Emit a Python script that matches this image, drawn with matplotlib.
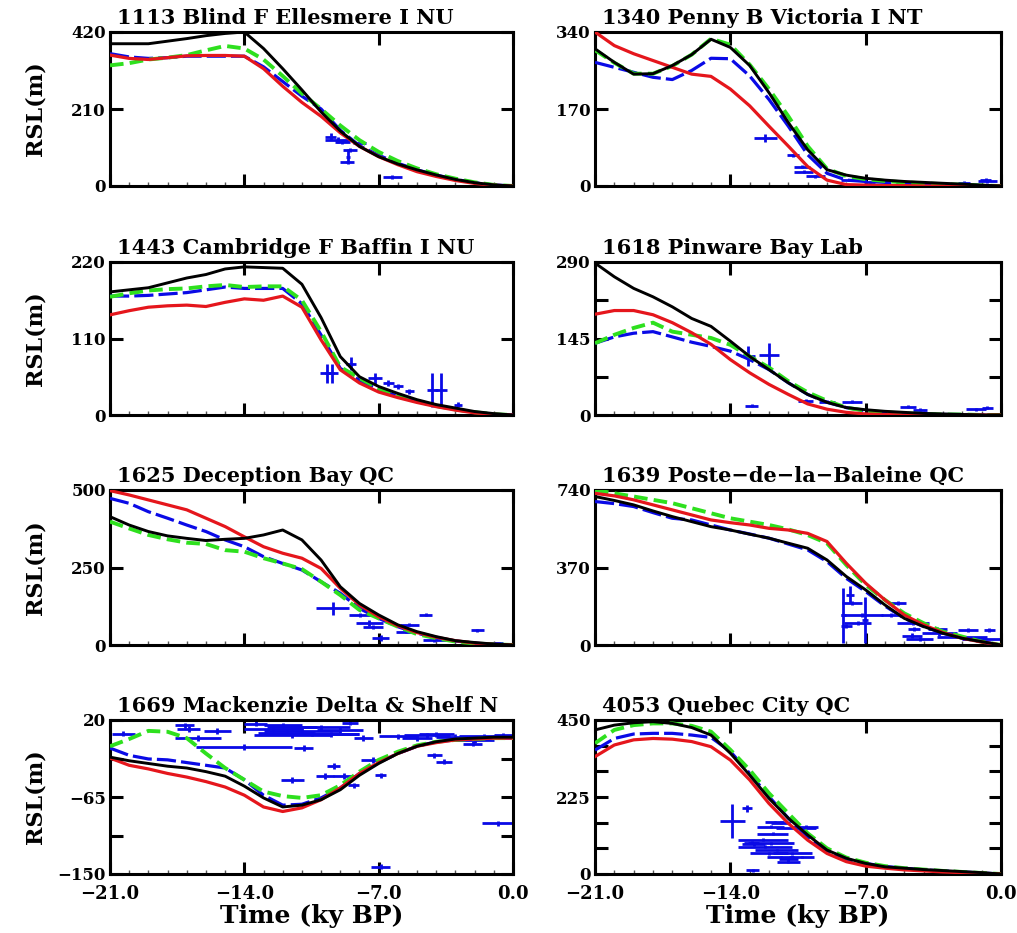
import matplotlib
matplotlib.use("Agg")
import matplotlib.pyplot as plt
from matplotlib.ticker import FixedLocator, FuncFormatter, NullFormatter, MultipleLocator

# ---------------- data ----------------
time_ky = [-21, -20, -19, -18, -17, -16, -15, -14, -13, -12, -11,
           -10, -9, -8, -7, -6, -5, -4, -3, -2, -1, 0]

site_titles = ["1113 Blind F Ellesmere I NU", "1340 Penny B Victoria I NT",
               "1443 Cambridge F Baffin I NU", "1618 Pinware Bay Lab",
               "1625 Deception Bay QC", "1639 Poste\u2212de\u2212la\u2212Baleine QC",
               "1669 Mackenzie Delta & Shelf N", "4053 Quebec City QC"]
y_bottoms = [0, 0, 0, 0, 0, 0, -150, 0]
y_tops = [420, 340, 220, 290, 500, 740, 20, 450]
y_mids = [210, 170, 110, 145, 250, 370, -65, 225]
y_minor = [[], [], [], [72.5, 217.5], [], [], [-107.5, -22.5], [75, 150, 300, 375]]

# model curves (black solid, green dashed, blue dashed, red solid)
s1113_black = [388, 388, 388, 395, 402, 410, 416, 420, 375, 320, 262, 202, 150, 108, 80, 60, 44, 30, 18, 9, 3, 0]
s1113_green = [329, 335, 345, 350, 357, 370, 382, 375, 345, 300, 252, 210, 165, 125, 93, 68, 48, 32, 20, 10, 3, 0]
s1113_blue = [361, 352, 348, 350, 354, 354, 354, 354, 325, 285, 245, 210, 152, 110, 84, 62, 44, 30, 18, 9, 3, 0]
s1113_red = [357, 348, 345, 350, 355, 356, 356, 354, 320, 272, 228, 190, 145, 108, 80, 58, 39, 26, 15, 7, 2, 0]

s1340_black = [303, 273, 247, 248, 266, 290, 324, 306, 266, 206, 140, 80, 36, 24, 17, 13, 10, 8, 6, 4, 2, 0]
s1340_green = [300, 272, 248, 248, 265, 290, 325, 312, 268, 214, 154, 88, 38, 22, 15, 11, 8, 6, 4, 3, 1, 0]
s1340_blue = [273, 262, 251, 240, 235, 255, 282, 281, 243, 191, 132, 69, 28, 13, 10, 8, 6, 5, 4, 3, 1, 0]
s1340_red = [340, 310, 292, 277, 262, 247, 242, 214, 177, 132, 88, 43, 13, 3, 2, 1, 1, 0, 0, 0, 0, 0]

s1443_black = [177, 180, 183, 190, 197, 202, 210, 213, 212, 211, 188, 140, 84, 55, 41, 31, 22, 15, 10, 5, 2, 0]
s1443_green = [170, 175, 179, 181, 182, 185, 187, 184, 185, 185, 165, 120, 69, 53, 38, 28, 20, 13, 8, 4, 1, 0]
s1443_blue = [171, 171, 172, 174, 176, 180, 184, 182, 182, 182, 160, 115, 67, 50, 36, 27, 19, 13, 8, 4, 1, 0]
s1443_red = [144, 150, 155, 157, 158, 156, 162, 167, 165, 171, 155, 108, 65, 46, 33, 25, 18, 12, 7, 3, 1, 0]

s1618_black = [288, 262, 240, 224, 205, 183, 168, 140, 111, 86, 61, 39, 24, 14, 10, 7, 5, 3, 2, 1, 0, 0]
s1618_green = [136, 152, 165, 175, 158, 152, 146, 133, 111, 90, 64, 43, 27, 14, 8, 5, 3, 2, 1, 1, 0, 0]
s1618_blue = [136, 148, 155, 158, 148, 138, 130, 121, 105, 86, 61, 39, 24, 14, 8, 5, 3, 2, 1, 1, 0, 0]
s1618_red = [191, 198, 198, 190, 175, 156, 134, 105, 80, 58, 39, 21, 11, 5, 2, 1, 0, 0, 0, 0, 0, 0]

s1625_black = [414, 387, 366, 352, 344, 337, 341, 344, 355, 371, 339, 274, 188, 134, 97, 65, 43, 27, 14, 8, 3, 0]
s1625_green = [398, 376, 355, 341, 330, 326, 306, 301, 280, 263, 245, 204, 161, 113, 86, 59, 35, 22, 11, 5, 2, 0]
s1625_blue = [473, 457, 430, 409, 387, 366, 339, 317, 285, 263, 242, 204, 167, 118, 86, 59, 38, 24, 13, 6, 2, 0]
s1625_red = [498, 484, 468, 452, 436, 409, 382, 349, 317, 296, 280, 247, 183, 129, 91, 62, 40, 25, 14, 6, 2, 0]

s1639_black = [709, 690, 669, 640, 613, 589, 565, 549, 529, 510, 486, 462, 406, 327, 263, 191, 127, 88, 56, 32, 16, 0]
s1639_green = [740, 724, 709, 693, 677, 653, 629, 605, 589, 573, 552, 525, 486, 382, 287, 215, 151, 104, 64, 40, 16, 0]
s1639_blue = [685, 675, 661, 632, 605, 597, 573, 549, 530, 510, 482, 454, 398, 318, 255, 186, 127, 88, 56, 32, 16, 0]
s1639_red = [724, 712, 693, 669, 645, 621, 597, 584, 573, 557, 549, 533, 494, 390, 295, 215, 143, 96, 59, 32, 14, 0]

s1669_black = [-21, -25, -28, -31, -33, -37, -42, -53, -66, -76, -74, -68, -57, -41, -28, -17, -9, -4, -1, 0, 1, 1]
s1669_green = [-9, -1, 8, 7, 0, -17, -33, -46, -59, -64, -66, -63, -52, -37, -24, -15, -8, -4, -2, -1, 0, 0]
s1669_blue = [-11, -19, -23, -24, -27, -30, -33, -46, -63, -74, -73, -66, -55, -39, -27, -17, -9, -4, -2, -1, 0, 0]
s1669_red = [-22, -30, -34, -39, -43, -48, -54, -63, -76, -81, -77, -68, -55, -39, -27, -17, -9, -5, -2, -1, 0, 0]

s4053_black = [421, 435, 442, 445, 440, 428, 406, 353, 289, 221, 163, 114, 70, 46, 31, 21, 17, 13, 10, 7, 4, 0]
s4053_green = [382, 421, 435, 440, 440, 433, 416, 363, 304, 236, 177, 119, 75, 48, 33, 23, 17, 13, 9, 6, 3, 0]
s4053_blue = [362, 396, 409, 411, 411, 406, 399, 358, 294, 226, 163, 109, 68, 43, 31, 22, 17, 12, 9, 6, 3, 0]
s4053_red = [343, 377, 392, 396, 394, 387, 372, 333, 275, 206, 148, 99, 60, 36, 23, 17, 12, 9, 6, 4, 2, 0]

# observations (age, RSL, age error, RSL error)
o1113_t = [-9.5, -9.1, -8.9, -8.5, -8.65, -8.6, -8.0, -6.3]
o1113_y = [135, 126, 120, 98, 66, 80, 116, 25]
o1113_te = [0.3, 0.7, 0.4, 0.35, 0.35, 0.1, 0.35, 0.5]
o1113_ye = [10, 8, 6, 6, 3, 20, 5, 6]

o1340_t = [-12.2, -10.75, -10.3, -10.2, -9.6, -7.8, -6.8, -1.9, -0.7, -0.8]
o1340_y = [106, 68, 43, 32, 21, 13, 8, 7, 10, 14]
o1340_te = [0.6, 0.3, 0.4, 0.5, 0.5, 0.5, 0.3, 0.3, 0.5, 0.3]
o1340_ye = [8, 3, 3, 3, 3, 3, 3, 3, 3, 3]

o1443_t = [-9.7, -9.45, -8.45, -7.2, -6.5, -6.0, -5.4, -4.2, -3.75, -2.85]
o1443_y = [60, 60, 74, 53, 46, 41, 34, 36, 36, 15]
o1443_te = [0.35, 0.35, 0.25, 0.35, 0.3, 0.25, 0.25, 0.3, 0.3, 0.2]
o1443_ye = [14, 14, 10, 8, 5, 4, 4, 25, 25, 3]

o1618_t = [-13.1, -12.0, -12.9, -10.1, -9.0, -7.7, -4.8, -4.2, -1.3, -0.7]
o1618_y = [111, 113, 18, 27, 25, 25, 16, 10, 11, 14]
o1618_te = [0.35, 0.5, 0.35, 0.4, 0.4, 0.5, 0.4, 0.35, 0.5, 0.3]
o1618_ye = [19, 23, 3, 3, 3, 3, 3, 3, 3, 3]

o1625_t = [-9.4, -7.95, -7.5, -7.3, -6.9, -5.6, -5.4, -4.55, -4.1, -1.85, -1.0]
o1625_y = [118, 97, 70, 59, 22, 43, 65, 97, 16, 48, 5]
o1625_te = [0.85, 0.6, 0.7, 0.5, 0.45, 0.5, 0.5, 0.35, 0.6, 0.35, 0.5]
o1625_ye = [21, 6, 10, 6, 10, 5, 5, 5, 5, 5, 5]

o1639_t = [-8.15, -7.03, -7.8, -7.2, -7.7, -5.35, -5.7, -4.55, -4.5, -4.6,
           -3.3, -3.2, -2.0, -1.0, -1.7, -7.4, -8.0, -0.6, -4.2]
o1639_y = [141, 120, 240, 143, 200, 200, 143, 104, 75, 45,
           75, 55, 40, 30, 70, 104, 90, 70, 30]
o1639_te = [0.15, 0.15, 0.2, 1.1, 0.5, 0.45, 0.5, 0.85, 0.3, 0.5,
            0.5, 0.9, 1.3, 1.0, 0.5, 0.7, 0.3, 0.3, 0.7]
o1639_ye = [131, 110, 40, 10, 10, 10, 10, 10, 10, 10,
            10, 10, 10, 10, 10, 10, 10, 10, 10]

o1669_t = [-20.3, -17.1, -16.9, -16.4, -15.4, -14.0, -13.4, -11.5, -12.5, -11.0,
           -10.5, -11.5, -9.5, -8.5, -10.9, -7.8, -6.0, -4.5, -3.0, -1.5,
           -0.5, -5.0, -2.0, -2.1, -4.1, -3.6, -7.3, -9.35, -9.8, -8.8,
           -6.9, -11.5, -0.8, -6.9, -8.3, -12.0, -10.0, -9.0, -11.8, -4.0]
o1669_y = [5, 14, 10, 0, 8, -10, 16, 12, 10, 8,
           5, 3, 4, 17, -11, 0, 2, 3, 1, 2,
           3, 0, -2, -6, -19, -26, -24, -31, -42, -42,
           -41, -46, -94, -142, -52, 14, 12, 9, 6, 4]
o1669_te = [0.6, 0.5, 0.6, 1.2, 0.7, 2.5, 0.6, 1.3, 1.5, 2.0,
            2.5, 2.0, 1.5, 0.4, 0.5, 0.5, 1.0, 1.2, 1.0, 1.3,
            0.5, 0.8, 1.0, 0.5, 0.4, 0.4, 0.6, 0.35, 0.45, 0.6,
            0.3, 0.6, 0.8, 0.5, 0.3, 1.0, 1.5, 1.2, 1.5, 0.9]
o1669_ye = [3, 3, 3, 3, 3, 3, 3, 3, 3, 3,
            3, 3, 3, 3, 3, 3, 3, 3, 3, 3,
            3, 3, 3, 3, 3, 3, 3, 3, 3, 3,
            3, 3, 3, 3, 3, 3, 3, 3, 3, 3]

o4053_t = [-13.9, -13.15, -11.7, -11.9, -10.6, -11.8, -12.3, -11.9, -12.2, -11.6,
           -12.0, -12.8, -10.8, -11.0, -12.85, -11.4, -12.9, -11.4, -10.1, -10.3, -11.0]
o4053_y = [155, 192, 152, 138, 133, 118, 100, 90, 80, 70,
           60, 87, 60, 43, 11, 50, 91, 150, 138, 50, 36]
o4053_te = [0.65, 0.25, 0.5, 0.7, 1.05, 0.8, 1.3, 1.2, 1.4, 1.1,
            1.0, 0.6, 1.0, 0.5, 0.35, 0.7, 0.4, 0.5, 0.65, 0.65, 0.6]
o4053_ye = [50, 10, 4, 4, 4, 4, 4, 4, 4, 4,
            4, 4, 4, 4, 4, 4, 4, 4, 4, 4, 4]

models = [
    (s1113_black, s1113_green, s1113_blue, s1113_red),
    (s1340_black, s1340_green, s1340_blue, s1340_red),
    (s1443_black, s1443_green, s1443_blue, s1443_red),
    (s1618_black, s1618_green, s1618_blue, s1618_red),
    (s1625_black, s1625_green, s1625_blue, s1625_red),
    (s1639_black, s1639_green, s1639_blue, s1639_red),
    (s1669_black, s1669_green, s1669_blue, s1669_red),
    (s4053_black, s4053_green, s4053_blue, s4053_red),
]
observations = [
    (o1113_t, o1113_y, o1113_te, o1113_ye),
    (o1340_t, o1340_y, o1340_te, o1340_ye),
    (o1443_t, o1443_y, o1443_te, o1443_ye),
    (o1618_t, o1618_y, o1618_te, o1618_ye),
    (o1625_t, o1625_y, o1625_te, o1625_ye),
    (o1639_t, o1639_y, o1639_te, o1639_ye),
    (o1669_t, o1669_y, o1669_te, o1669_ye),
    (o4053_t, o4053_y, o4053_te, o4053_ye),
]
x_ticks = [-21, -14, -7, 0]

# ---------------- style / layout ----------------
plt.rcParams["font.family"] = ["DejaVu Serif"]
plt.rcParams["font.weight"] = "bold"

BLACK = "#000000"
GREEN = "#2ee01e"
BLUE = "#0a0ae6"
RED = "#e5161c"

W, H = 1017, 933
fig = plt.figure(figsize=(W / 100, H / 100), dpi=100)
fig.patch.set_facecolor("white")

col_px = [(110, 513), (595, 1001)]
row_px = [(32, 186), (262, 415), (490, 645), (720, 874)]


def minus(s):
    return s.replace("-", "\u2212")


for i in range(8):
    r, c = divmod(i, 2)
    x0, x1 = col_px[c]
    yt, yb = row_px[r]
    ax = fig.add_axes([x0 / W, 1 - yb / H, (x1 - x0) / W, (yb - yt) / H])

    ot, oy, ote, oye = observations[i]
    ax.errorbar(ot, oy, xerr=ote, yerr=oye, fmt="none", ecolor=BLUE,
                elinewidth=2.0, capsize=0, zorder=2)

    blk, grn, blu, red = models[i]
    ax.plot(time_ky, blu, color=BLUE, lw=2.3, dashes=(6, 1.6), zorder=3)
    ax.plot(time_ky, grn, color=GREEN, lw=2.8, dashes=(3.5, 1.6), zorder=4)
    ax.plot(time_ky, red, color=RED, lw=2.3, zorder=5)
    ax.plot(time_ky, blk, color=BLACK, lw=2.1, zorder=6)

    ax.set_xlim(-21, 0)
    ax.set_ylim(y_bottoms[i], y_tops[i])

    ax.xaxis.set_major_locator(FixedLocator(x_ticks))
    ax.xaxis.set_minor_locator(MultipleLocator(1))
    ax.yaxis.set_major_locator(FixedLocator([y_bottoms[i], y_mids[i], y_tops[i]]))
    ax.yaxis.set_minor_locator(FixedLocator(y_minor[i]))
    ax.yaxis.set_minor_formatter(NullFormatter())
    ax.yaxis.set_major_formatter(FuncFormatter(lambda v, p: minus("%d" % round(v))))

    ax.tick_params(axis="both", which="major", direction="in", length=9, width=2.2,
                   top=True, right=True, labelsize=12, pad=3)
    ax.tick_params(axis="x", which="minor", direction="in", length=3, width=1,
                   top=False, bottom=True, color="#555555")
    ax.tick_params(axis="y", which="minor", direction="in", length=9, width=2.2,
                   left=True, right=True)
    for sp in ax.spines.values():
        sp.set_linewidth(2.2)

    if r == 3:
        ax.xaxis.set_major_formatter(FuncFormatter(lambda v, p: minus("%.1f" % v)))
        ax.tick_params(axis="x", which="major", labelsize=13, pad=8)
        ax.set_xlabel("Time (ky BP)", fontsize=18, fontweight="bold", labelpad=1)
    else:
        ax.xaxis.set_major_formatter(NullFormatter())

    if c == 0:
        ax.set_ylabel("RSL(m)", fontsize=16, fontweight="bold")
        ax.yaxis.set_label_coords(-0.158, 0.5)

    ax.annotate(site_titles[i], xy=(0, 1), xycoords="axes fraction",
                xytext=(5, 3), textcoords="offset points", ha="left", va="bottom",
                fontsize=15, fontweight="bold", annotation_clip=False)

fig.savefig("out.png", dpi=100, facecolor="white")
